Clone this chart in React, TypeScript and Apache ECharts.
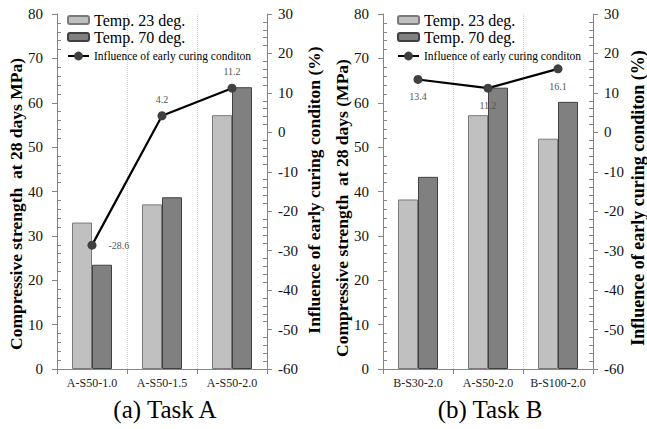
import React, { useEffect, useRef } from 'react';
import * as echarts from 'echarts';

const categoriesA = ['A-S50-1.0', 'A-S50-1.5', 'A-S50-2.0'];
const temp23A = [33.0, 37.1, 57.2];
const temp70A = [23.5, 38.7, 63.5];
const influenceA = [-28.6, 4.2, 11.2];

const categoriesB = ['B-S30-2.0', 'A-S50-2.0', 'B-S100-2.0'];
const temp23B = [38.2, 57.2, 51.9];
const temp70B = [43.3, 63.4, 60.2];
const influenceB = [13.4, 11.2, 16.1];

const seriesNames = ['Temp. 23 deg.', 'Temp. 70 deg.', 'Influence of early curing conditon'];
const leftTitleA = 'Compressive strength  at 28 days MPa)';
const leftTitleB = 'Compressive strength  at 28 days (MPa)';
const rightTitle = 'Influence of early curing conditon (%)';
const captions = ['(a) Task A', '(b) Task B'];

const FONT = 'Liberation Serif';
const AXIS = '#868686';

function buildOption() {
  const grids = [
    { left: 57, top: 14, width: 210, height: 355 },
    { left: 383, top: 14, width: 210, height: 355 },
  ];
  const xAxis = [categoriesA, categoriesB].map((cats, i) => ({
    type: 'category',
    gridIndex: i,
    data: cats,
    boundaryGap: true,
    axisLine: { show: true, lineStyle: { color: AXIS, width: 1 } },
    axisTick: { show: true, length: 5, lineStyle: { color: AXIS } },
    axisLabel: { fontFamily: FONT, fontSize: 12, color: '#222', margin: 8, interval: 0 },
    splitLine: { show: true, lineStyle: { color: '#cfcfcf', type: 'dotted', width: 1 } },
  }));
  const leftY = (gi: number) => ({
    type: 'value',
    gridIndex: gi,
    position: 'left',
    min: 0,
    max: 80,
    interval: 10,
    axisLine: { show: true, lineStyle: { color: AXIS } },
    axisTick: { show: true, length: 5, lineStyle: { color: AXIS } },
    minorTick: { show: true, splitNumber: 5, length: -4, lineStyle: { color: AXIS } },
    axisLabel: { fontFamily: FONT, fontSize: 15, color: '#111', margin: 14 },
    splitLine: { show: false },
  });
  const rightY = (gi: number) => ({
    type: 'value',
    gridIndex: gi,
    position: 'right',
    min: -60,
    max: 30,
    interval: 10,
    axisLine: { show: true, lineStyle: { color: AXIS } },
    axisTick: { show: true, length: 5, lineStyle: { color: AXIS } },
    minorTick: { show: true, splitNumber: 5, length: -4, lineStyle: { color: AXIS } },
    axisLabel: { fontFamily: FONT, fontSize: 15, color: '#111', margin: 11 },
    splitLine: { show: false },
  });
  const yAxis = [leftY(0), rightY(0), leftY(1), rightY(1)];

  const barSeries = (name: string, data: number[], xi: number, yi: number, color: string, border: string) => ({
    type: 'bar',
    name,
    xAxisIndex: xi,
    yAxisIndex: yi,
    data,
    barWidth: 20,
    barGap: '0%',
    itemStyle: { color, borderColor: border, borderWidth: 1 },
  });
  const lineSeries = (data: number[], xi: number, yi: number, positions: string[], distances: number[]) => ({
    type: 'line',
    name: seriesNames[2],
    xAxisIndex: xi,
    yAxisIndex: yi,
    data: data.map((v, i) => ({ value: v, label: { position: positions[i], distance: distances[i] } })),
    symbol: 'circle',
    symbolSize: 9,
    itemStyle: { color: '#404040' },
    lineStyle: { color: '#000', width: 2.2 },
    label: {
      show: true,
      fontFamily: FONT,
      fontSize: 10,
      color: '#555',
      formatter: (p: any) => Number(p.value).toFixed(1),
    },
    z: 5,
  });

  const series = [
    barSeries(seriesNames[0], temp23A, 0, 0, '#c0c0c0', '#7a7a7a'),
    barSeries(seriesNames[1], temp70A, 0, 0, '#808080', '#404040'),
    lineSeries(influenceA, 0, 1, ['right', 'top', 'top'], [12, 7, 7]),
    barSeries(seriesNames[0], temp23B, 1, 2, '#c0c0c0', '#7a7a7a'),
    barSeries(seriesNames[1], temp70B, 1, 2, '#808080', '#404040'),
    lineSeries(influenceB, 1, 3, ['bottom', 'bottom', 'bottom'], [8, 8, 8]),
  ];

  const barLegend = (left: number) => ({
    left,
    top: 12,
    padding: 0,
    orient: 'vertical',
    itemWidth: 21,
    itemHeight: 8,
    itemGap: 1,
    itemTextGap: 1,
    selectedMode: false,
    textStyle: { fontFamily: FONT, fontSize: 16, color: '#000' },
    data: [seriesNames[0], seriesNames[1]],
  });
  const lineLegend = (left: number) => ({
    left,
    top: 50,
    padding: 0,
    orient: 'vertical',
    itemWidth: 21,
    itemHeight: 11,
    itemTextGap: 1,
    selectedMode: false,
    textStyle: { fontFamily: FONT, fontSize: 11.5, color: '#000' },
    data: [seriesNames[2]],
  });

  const vtitle = (text: string, x: number, y: number, size: number) => ({
    type: 'text',
    x,
    y,
    rotation: Math.PI / 2,
    style: {
      text,
      fontFamily: FONT,
      fontSize: size,
      fontWeight: 'bold',
      fill: '#000',
      textAlign: 'center',
      textVerticalAlign: 'middle',
    },
  });

  const caption = (text: string, x: number) => ({
    type: 'text',
    x,
    y: 409,
    style: { text, fontFamily: FONT, fontSize: 25, fill: '#000', textAlign: 'center', textVerticalAlign: 'middle' },
  });

  const graphic = [
    vtitle(leftTitleA, 16, 204, 17.5),
    vtitle(rightTitle, 314, 190, 17.5),
    vtitle(leftTitleB, 342, 208, 17.5),
    vtitle(rightTitle, 638, 198, 18),
    caption(captions[0], 165),
    caption(captions[1], 490),
  ];

  return {
    animation: false,
    backgroundColor: '#fff',
    textStyle: { fontFamily: FONT },
    grid: grids,
    xAxis,
    yAxis,
    series,
    legend: [barLegend(67), lineLegend(67), barLegend(397), lineLegend(397)],
    graphic,
  };
}

export default function App() {
  const ref = useRef<HTMLDivElement>(null);
  useEffect(() => {
    document.body.style.margin = '0';
    if (!ref.current) return;
    const chart = echarts.init(ref.current, undefined, { renderer: 'svg' });
    chart.setOption(buildOption() as any);
    return () => chart.dispose();
  }, []);
  return <div ref={ref} style={{ width: 647, height: 429 }} />;
}
